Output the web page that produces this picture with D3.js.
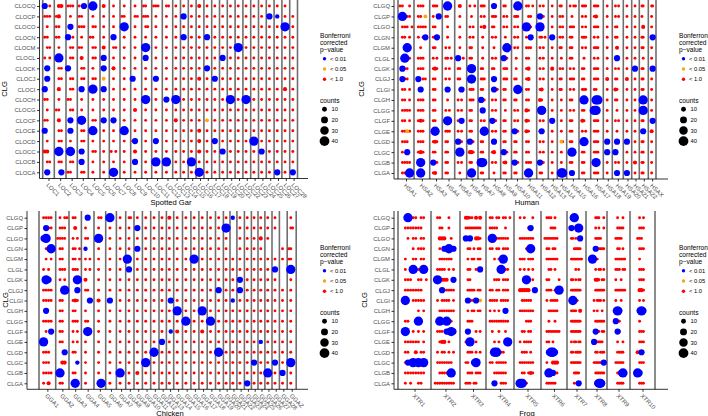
<!DOCTYPE html>
<html><head><meta charset="utf-8">
<script src="https://cdn.jsdelivr.net/npm/d3@7"></script>
<style>body{margin:0;background:#fff}svg{display:block;font-family:"Liberation Sans",Arial,sans-serif}</style>
</head><body><svg id="c" width="708" height="416"></svg>
<script>
// ---------- categories ----------
const clgGar = ["CLOCQ","CLOCP","CLOCO","CLOCN","CLOCM","CLOCL","CLOCK","CLOCJ","CLOCI","CLOCH","CLOCG","CLOCF","CLOCE","CLOCD","CLOCC","CLOCB","CLOCA"];
const clgOther = ["CLGQ","CLGP","CLGO","CLGN","CLGM","CLGL","CLGK","CLGJ","CLGI","CLGH","CLGG","CLGF","CLGE","CLGD","CLGC","CLGB","CLGA"];
const garChroms = ["LOC1","LOC2","LOC3","LOC4","LOC5","LOC6","LOC7","LOC8","LOC9","LOC10","LOC11","LOC12","LOC13","LOC14","LOC15","LOC16","LOC17","LOC18","LOC19","LOC20","LOC21","LOC22","LOC23","LOC24","LOC25","LOC26","LOC27","LOC28"];
const garSizes = [11.6,11.7,11.3,11,11.7,9.3,10.7,10.7,11,10,10.6,10.4,7.8,7.8,7.8,7.8,7.8,7.8,7.8,7.8,7.8,7.8,7.8,7.8,7.8,7.8,7.8,7.8];
const humChroms = ["HSA1","HSA2","HSA3","HSA4","HSA5","HSA6","HSA7","HSA8","HSA9","HSA10","HSA11","HSA12","HSA13","HSA14","HSA15","HSA16","HSA17","HSA18","HSA19","HSA20","HSA21","HSA22","HSAX"];
const humSizes = [16,15.7,12.6,12.4,12,11.3,11,11.7,10.8,11,14.2,11.6,9,9.4,12.3,11.7,12.6,9,11,8.4,7.6,9,7.7];
const chkChroms = ["GGA1","GGA2","GGA3","GGA4","GGA5","GGA6","GGA7","GGA8","GGA9","GGA10","GGA11","GGA12","GGA13","GGA14","GGA15","GGA16","GGA17","GGA18","GGA19","GGA20","GGA21","GGA22","GGA23","GGA24","GGA25","GGA26","GGA27","GGA28","GGAZ"];
const chkSizes = [16.7,13.3,12.4,12.6,11.7,10.7,9.3,8.3,8.4,8.3,8.3,7.4,7.3,8.8,8.4,8,8.3,8.3,7.9,6.6,6.9,7.5,7,6.6,6.9,7.1,7.4,7.8,9];
const frgChroms = ["XTR1","XTR2","XTR3","XTR4","XTR5","XTR6","XTR7","XTR8","XTR9","XTR10"];
const frgSizes = [33,29,26,28,27,26,19,21,23,25];

// legend values
const pClasses = ["< 0.01","< 0.05","< 1.0"];
const countTicks = [10,20,30,40];
// dot codes: count and p-value class per symbol
const codeCount = {r:3.5, R:7, o:6, b:8, m:16, B:36};
const codeClass = {r:"< 1.0", R:"< 1.0", o:"< 0.05", b:"< 0.01", m:"< 0.01", B:"< 0.01"};

// ---------- dots: one string per CLG row, one token per chromosome, one char per slot ----------
const garRows = [
"m.r. .RR. rrr. r.m. .B.. .R.. .r.. .r.. .r.. rr.. rrr. .rr. .r.. .r.. .r.. .R.. .r.. .r.. .r.. .r.. .r.. .r.. .r.. .r.. .r.. .r.. .r.. ....",
"rrr. rR.. .r.. rr.. .r.. .r.. .r.. rr.. .rr. rrr. .r.. .r.. .r.. .m.. .r.. .r.. .r.. .r.. .r.. .r.. .r.. .r.. .r.. .r.. .m.. .b.. .r.. .r..",
".r.. rr.. .m.. rrr. .rr. .r.. .r.. .B.. .r.. .rr. .r.. .r.. .r.. .r.. .r.. .r.. .r.. .r.. .r.. .r.. .r.. .r.. .r.. .r.. .r.. .r.. .B.. .r..",
"rr.. rr.. m.r. .r.. rr.. .r.. .m.. .r.. .r.. .r.. .r.. .r.. .r.. .m.. .r.. .r.. .m.. .r.. .r.. .r.. .r.. .r.. .r.. .r.. .r.. .r.. .r.. .r..",
".rr. .r.. .rr. rr.. .rr. .R.. .rr. .r.. .r.. .B.. .r.. .r.. .r.. .r.. .r.. .r.. .r.. .r.. .r.. .r.. .B.. .r.. .r.. .r.. .r.. .r.. .r.. .r..",
"r.r. .B.. .rr. .R.. .rr. .m.. .r.. .r.. .r.. .m.. .r.. .r.. .r.. .r.. .r.. .r.. .r.. .r.. .m.. .r.. .r.. .r.. .r.. .r.. .r.. .r.. .r.. .r..",
".m.. .rr. m... .rr. .r.. .m.. .R.. .r.. .r.. .r.. .r.. .r.. .r.. .r.. .r.. .r.. .m.. .r.. .r.. .r.. .r.. .r.. .r.. .r.. .r.. .r.. .r.. .r..",
".m.. .rr. .rr. .rr. .rr. .o.. .r.. .r.. m... .r.. .m.. .r.. .r.. .r.. .r.. .R.. .r.. .m.. .r.. .r.. .r.. .r.. .r.. .r.. .r.. .r.. .r.. .r..",
"m... .R.. .rr. .m.. .B.. .m.. .r.. .r.. .r.. .r.. .r.. .r.. .r.. .r.. .r.. .r.. .r.. .r.. .r.. .r.. .r.. .r.. .r.. .r.. .r.. .r.. .R.. .r..",
"rr.. .r.. rr.. .r.. .r.. .r.. .r.. .r.. .r.. .B.. .r.. .m.. .B.. .r.. .r.. .r.. .r.. .r.. .r.. .B.. .r.. .B.. .r.. .r.. .r.. .r.. .r.. .r..",
".r.. rr.. .rr. .r.. .r.. .r.. .r.. .r.. .R.. .r.. .r.. .r.. .r.. .r.. .r.. .r.. .r.. .r.. .r.. .r.. .r.. .r.. .r.. .r.. .r.. .r.. .r.. .r..",
"rr.. .R.. .m.. .B.. .rr. .m.. .m.. .r.. .r.. .r.. .r.. .r.. .R.. .r.. .r.. .r.. .o.. .r.. .r.. .r.. .r.. .r.. .r.. .r.. .r.. .r.. .r.. .r..",
"m... .rr. .m.. .rr. .B.. .r.. .r.. .B.. .r.. .r.. .r.. .r.. .r.. .r.. .r.. .R.. .r.. .r.. .r.. .r.. .r.. .r.. .r.. .r.. .r.. .r.. .r.. .r..",
".r.. .rr. .r.. .rr. .r.. .r.. .r.. .r.. rm.. .r.. .m.. .r.. .r.. .r.. .r.. .R.. .r.. .m.. .r.. .r.. .r.. .r.. .B.. .r.. .r.. .r.. .r.. .r..",
"RR.. .B.. .B.. .m.. .rr. .r.. r.r. .r.. .R.. .r.. .r.. .r.. .r.. .r.. .r.. .R.. .r.. .r.. .m.. .r.. .r.. .r.. .r.. .m.. .r.. .r.. .r.. .r..",
".rr. .rr. .rr. .m.. .r.. .r.. .r.. .r.. .m.. .r.. .B.. .B.. .r.. .r.. .B.. .r.. .r.. .r.. .r.. .r.. .r.. .r.. .r.. .r.. .r.. .r.. .r.. .r..",
".m.. ..m. rr.. .rr. .r.. .r.. .B.. .r.. .r.. .r.. .r.. .r.. .r.. .r.. .r.. .B.. .r.. .r.. .r.. .r.. .r.. .r.. .r.. .r.. .r.. .m.. .r.. .m.."
];
const humRows = [
"rr..r. .rrr.. .rrr.. ..B... ..R... .r..r. .rrr.. ..m... .rr... ...B.. .rr.r. .r.r.. ..r... .rr... .r.rr. .rrr.. .rrr.. ..r... .r.r.. ..r... ..r... .rr... ..rr..",
".Brrr. .rr.o. .r..m. .rr... ..r... ..r... .r.r.. .rrr.. .r.r.. .rrr.. ..rr.. .m.r.. ..r... .r.r.. ..r... .r.r.. .rR... ..r... .r.r.. ..r... ..r... .r.... ..r...",
".rrr.r .rrrr. .rr... ..r... ..r... .r.r.. .r.R.. .rr... .r.r.. .r.r.. .B.r.. .B.... ..r... .r.r.. .rrr.. .r.r.. .rrr.. ..r... .rr... ..r... ..r... ..R... ..r...",
".rr.r. .r.rm. .r.m.. ..r... ..r... .r.r.. ..r... .r.r.. ..r... .r.r.. .r.m.. .rr.r. ..m... .r.r.. .rr... .rrr.. .r.r.. ..r... .rr... ..r... ..r... .rr... ...m..",
"..rB.. ..r... .rr... .r.r.. ..r... .rr... ..r... ..r... ..rB.. .r.r.. .rrr.. .r.r.. ..r... .rr... .rr... .r.r.. .rrr.. ..r... ..R... ..r... ..r... .rr... ..r...",
"..B.r. .rrr.. .r.r.. .rr.r. .m..r. .rr... ..r... .r.r.. .m.r.. ..r... .rr... .r.r.. ..r... ..r... .rr... ..r... .r.r.. ..r... ..m... ..r... ..r... ..r... ..r...",
".mrr.. .rrr.. .rRr.. .r.r.. .rr... ..B... .rr... .rr... .rrr.. ..r... .rR... .r.r.. ..R... .r.r.. .r.r.. .rr... .rrr.. ..r... .r.r.. ..r... ..m... .rr... ...m..",
".mrr.. .m.rr. .rr... .r.r.. .rr... ..B... .rrr.. ..m... .rrr.. .rr... .rR... .r.r.. ..r... .rr... .rrr.. .rr... .rrr.. ..R... .rr... ..R... ..r... .rr... ..r...",
".rr.r. ..m... .rr... ..m... ..rm.. .rrr.. .rr... ..m.r. .rr... ...B.. .rr... .rR... ..r... .rr... .r.r.. .rrr.. .rr... ..r... .Rr... ..r... ..r... .rr... ..r...",
".rr.r. .rrr.. .rr... ..r... .r.r.. .rrr.. .m.r.. .r.r.. .rr... .rr... .rr... .Rr... ..r... ..r... .rr... ..B... ..BB.. ..r... .rr... ..r... ..r... ..B... ..r...",
".rrrr. .rrr.. .rr... .r.r.. .r.r.. .rr... ..m... .r.r.. ..r... .r.r.. .Rr... ..B... ..r... ..r... .r.r.. .rr... .BB... ..r... ..r... ..r... ..r... ..B... ..r...",
".rr.r. .rRr.. .rr... ..B... .r.m.. .rr... .r.r.. .m.r.. .rr... .r.r.. .Rr... .r.r.. ..m... ..r... .rr... .Rr... .rrr.. ..r... .r.r.. ..r... ..r... .rr... ...m..",
".rror. .rrr.. ..B... .rrr.. .r.r.. .rr... ..rB.. .r.r.. .rr... .m.r.. .Rr... .rm... ..r... ..r... .rr... .r.r.. .rrr.. ..r... ..r... ..r... ..r... ..m... ..R...",
".rrr.. .rrr.. .rRr.. .rr... .m.r.. .m.r.. .rr... ..m... .rr... .rr... .rr... .r.r.. ..r... ..or.. .rr... ..B... .rrr.. ..m... ..m... ..m... ..r... .rr... ..r...",
".r.m.. .rRr.. .rr... .rr... ..B... .RRr.. .rr... .rR... .m.r.. .rr... .rr... .r.r.. ..r... ..r... ..B... .rr... .rrr.. ..m... .m.... ..r... ..r... .rr... ..r...",
".rrrr. ..B... .m.r.. .rr... .r.r.. .rr... .BB... .r.r.. .rR... .m.r.. .rrr.. .m.r.. ..r... ..r... .rr... .rr... ..B... ..r... .r.r.. ..r... ..R... .rr... ..r...",
".rr.B. ..Br.. .rR... .rr... ..r... ..B... .rr... ..r... .rr... .rr... ..B... .rr... ..r... ..BB.. ..m... .rr... .rrr.. ..r... ..m... ..m... ..r... .rr... ..r..."
];
const chkRows = [
".rrrr. .r.rr .rr.. ..m.. .rr. .B.. .r.. .rr. .r.. .r.. .r.. .r.. .R.. .r.. .r.. .r.. .r.. .r.. .r.. .r.. .b.. .r.. .r.. .r.. .r.. .r.. .r.. .... .r..",
"..mrr. .rrr. ..R.. .r... .r.. .r.. .r.. .r.. .m.. .r.. .r.. .r.. .r.. .r.. .r.. .r.. .r.. .r.. .r.. .B.. .... .r.. .r.. .r.. .r.. .r.. .r.. .... .rr.",
".mB... rrrr. .r.r. .rr.. .B.. .r.. .r.. .r.. .r.. .r.. .r.. .r.. .r.. .r.. .r.. .r.. .r.. .r.. .r.. .r.. .... .r.. .r.. .r.. .R.. .r.. .... .... ....",
"..r.B. .rr.. .rr.r .b... .r.. .r.. .r.. .r.. .m.. .r.. .r.. .r.. .r.. .r.. .r.. .r.. .r.. .r.. .r.. .r.. .... .r.. .r.. .r.. .r.. .... .... .r.. rr..",
"..r.r. .rr.. .rr.r .r.r. .r.. .r.. .r.. B... .r.. .r.. .r.. .r.. .r.. .r.. .r.. .B.. .r.. .r.. .r.. .r.. .r.. .r.. .r.. .r.. .r.. .r.. .r.. .r.. rr..",
".r.r.. .rrr. .rrr. .r.r. .r.. .r.. .r.. .m.. .r.. .r.. .r.. .r.. .r.. .r.. .r.. .r.. .r.. .r.. .r.. .r.. .r.. .r.. .r.. .r.. .r.. .r.. .m.. .... .B..",
"..Bm.. .r.r. ...B. .R... .r.. .r.. .r.. .r.. .r.. .r.. .r.. .r.. .r.. .r.. .r.. .r.. .r.. .r.. .r.. .r.. .r.. .m.. .r.. .r.. .r.. .r.. .r.. .... .r..",
".rrrr. ...B. ...m. .rr.. .r.. .r.. .r.. .r.. .r.. .r.. .r.. .r.. .r.. .r.. .r.. .r.. .r.. .r.. .m.. .r.. .r.. .m.. .r.. .r.. .r.. .r.. .r.. .r.. .r..",
".rrrr. .rr.. .rRr. ...m. .R.. .m.. .r.. .r.. .r.. .r.. .r.. .r.. ..m. .r.. .r.. .r.. .r.. .r.. .r.. .r.. .b.. .r.. .r.. .r.. .r.. .r.. .r.. .r.. .r..",
"..m... .rr.. .rr.. .r... .r.. .r.. .r.. .r.. .r.. .r.. .r.. .r.. .r.. .B.. .r.. .r.. .B.. .r.. .r.. .r.. .r.. .r.. .r.. .r.. .r.. .r.. .r.. .r.. .r..",
".rrrr. .rr.. .rrr. .rr.. .r.. .r.. .r.. .r.. .r.. .r.. .r.. .r.. .r.. .r.. .B.. .r.. .r.. .B.. .r.. .r.. .r.. .r.. .r.. .r.. .r.. .r.. .r.. .r.. .r..",
"..r.m. .rr.. .r.r. ..B.. .r.. .r.. .r.. .r.. .r.. .r.. .r.. .r.. ..b. .R.. .r.. .r.. .R.. .r.. .r.. .r.. .r.. .r.. .r.. .r.. .r.. .r.. .r.. .r.. .r..",
".B.... .rr.. .r.r. .r... .r.. .r.. .r.. .r.. .r.. .r.. .r.. .m.. .r.. .r.. .r.. .r.. .r.. .r.. .r.. .r.. .r.. .r.. .r.. .r.. .b.. .r.. .r.. .r.. .r..",
".rrr.. ...m. .rr.. .r... .r.. .r.. .r.. .r.. .r.. .r.. .B.. .r.. .r.. .r.. .r.. .r.. .r.. .r.. .B.. .r.. .r.. .r.. .r.. .r.. .r.. .r.. .r.. .r.. .r..",
".rrr.. ..RR. ...b. .r... .r.. .r.. .r.. .r.. .r.. .B.. .r.. .r.. .r.. .r.. .r.. .r.. .r.. .r.. .r.. .r.. .r.. .r.. .r.. .m.. .r.. .r.. .m.. .r.. .B..",
".rrrr. .B... .rr.. .r... .r.. .r.. .B.. .r.. .R.. .r.. .r.. .r.. .r.. .r.. .r.. .r.. .r.. .r.. .r.. .r.. .r.. .r.. .r.. .r.. .r.. .B.. .r.. .m.. .r..",
".r.R.. .rr.. ..B.. .r... ..B. .r.. .r.. .r.. .r.. .r.. .r.. .r.. .r.. .r.. .r.. .r.. .r.. .r.. .r.. .r.. .r.. .r.. .m.. .r.. .r.. .r.. .r.. .r.. .r.."
];
const frgRows = [
"..rB.rr.rr.. ..rr...r.... ..RRrr.R.R.. .rr.rr.rr.r. ..r.r...r... ..rrr.r..... ...mB....... .....rrr..r. .....r..r... ....r.r.....",
"..rrrrrrr... ...rr..r.... ..rrrrrrrr.. .rrrr...r... ......rm.... ....rrr..... ..m....B.... .....r.r..r. .....rrrr... ....rrr.....",
"...r.rr.rr.. ...RRR..r... ..m.m..RRr.. ..B.rrrrrr.. ..rrrrrrr... .rrrrrrr.... ..rr.r..m... .....rrrr... ....rrrr.... ...rrr......",
".....r.rrr.. ...r.m.B.m.. ...rr.r.rr.. .rr.rr.rrr.. .....r.B.... ..rr.rr..... ....rrrrr... .....m.rrrr. .....rr.r... ....rrr.....",
"..r..rr.rr.. ...rrrrrr... ...r.rr.rr.. ...r.r.Br... ..rrr.rrr... ..rrrrrr.... ..rrrrrrrr.. ...B..r..... ....rrrrrr.. ....r.......",
"..r..B.r.B.. ..rrrr.r.r.. ...rr..r.m.. ......B.rr.. ..r.r.r.r... ...rr.r..... .....r.r.... .....r.rr.r. ....rrr.rr.. ....rrr.....",
"..rrr..rr.r. ..B.RRR..m.. ...rr....... ...rrr.rrr.. ....oB..r... ..rr....r... ..rr.r.rr... .....RRr.rr. ....r..r.... ....rrr.....",
"..rrrrrrr... ....mrrrrr.. ...rrrr.rr.. .rr.rr.rrr.. ..RRRRR..m.. ..rrr.r.B... ..rrrrrrr... .....rrrrrr. ....rrrrrr.. ....RRr.....",
"..B..rrrrr.. ..r.rrrr.r.. ...m.r.m.o.. .rrrr.rrrr.. ...rrrrr.... ..r.rrrr.... ...B..r..... ....r.rrr.r. ....r..r.... ....r.r.....",
".......r.r.. ...rrrrrrr.. ...r.rr.rr.. .r.r.r..m... ..rrrrrrr... ...rrrrr.... ..rrrr..R... ....r.r..r.. ....mBm..... ....mBm.....",
"..rr...B.... ...B..B.r... ...rrr...... .rrrrrrrrr.. .....rrr.... ...r..r..... ..rrrrrrr... .....rrrrrr. ....m.r..... ....r.......",
"..B..r.r.r.. ..rrr.mmBm.. ...m...r.r.. ..r..r..r... ...rr.rr.... ..rrrrrrr... ..rrrrrrr... .....m.r.rr. .....mr..... ....rrr.....",
"..rrrrrr.r.. ...rRR.r.... ..rrB..r.... ...r.r...B.. ..r.rrrr.... ..rr.r...... ..r.rr.rr... ....m.rrrr.. .....r..r... ....rrr.....",
"..rr..R.rr.. ..r.rr.r.r.. ...rrr.r.r.. ...BB.rr.... ...rrr.r.... ...mBBm..... ..rr.rrrr... .....rr.rrr. .....rrrr... ...R.m......",
"..rm.B.B.B.. ..rrrrrrr... ..rr..mB.... .rr.rrrrr... ..rrrrrrr... ..r..RRR.... ..rrrrrrr... ....rrrrr.m. ....rrrrr... ....rrr.....",
"..rrrrrrrr.. ...rrrr.B... ...rrr.rrr.. ...rrrrrr... ...rr.rRr... ...B.m.r.... ....rrrr.... .....rrrrrr. .....r.mB... ...Bm.......",
"..r.r..rr... .rrrrrrrrr.. ..rrr.rr.... ...m..rrr... ..BB.r...... ..rrrrr..... ....r.rm.... .....rmBBm.. .....rrrr... ....rrr....."
];

// ---------- layout ----------
const panels = [
 {title:"Spotted Gar", clg:clgGar, chroms:garChroms, sizes:garSizes, rows:garRows,
  x0:39.5, lineStart:42.7, axisEnd:308, plotTop:0, top:6, bottom:172.3, axisY:178.5, titleX:171, titleY:202, ylabX:4.5, ylabY:89, legX:320, legY:0},
 {title:"Human", clg:clgOther, chroms:humChroms, sizes:humSizes, rows:humRows,
  x0:394, lineStart:398, axisEnd:668, plotTop:0, top:6, bottom:173, axisY:179, titleX:527, titleY:202, ylabX:361, ylabY:89, legX:679, legY:0},
 {title:"Chicken", clg:clgOther, chroms:chkChroms, sizes:chkSizes, rows:chkRows,
  x0:27, lineStart:39, axisEnd:308, plotTop:211, top:217.7, bottom:383.3, axisY:389.3, titleX:170, titleY:413, ylabX:5, ylabY:300, legX:320, legY:212},
 {title:"Frog", clg:clgOther, chroms:frgChroms, sizes:frgSizes, rows:frgRows,
  x0:394, lineStart:398, axisEnd:668, plotTop:211, top:217.7, bottom:383.3, axisY:389.3, titleX:527, titleY:413, ylabX:364, ylabY:300, legX:679, legY:212}
];

const svg = d3.select("#c");
const color = d3.scaleOrdinal().domain(pClasses).range(["#0000ff","#ffa500","#ff0000"]);
const size = d3.scaleSqrt().domain([0,40]).range([0,4.9]);
const tickCol = "#4d4d4d";

panels.forEach(p => {
  const g = svg.append("g");
  const cum = [0];
  p.sizes.forEach(s => cum.push(cum[cum.length-1] + s));
  const total = cum[cum.length-1];
  const x = d3.scaleLinear().domain([0,total]).range([p.lineStart, p.lineStart + total]);
  const y = d3.scalePoint().domain(p.clg).range([p.top, p.bottom]);

  // separators
  g.append("g").selectAll("line").data(cum).join("line")
    .attr("x1", d => x(d)).attr("x2", d => x(d))
    .attr("y1", p.plotTop).attr("y2", p.axisY)
    .attr("stroke", "#6f6f6f").attr("stroke-width", 1.6);

  // dots
  const dots = [];
  p.rows.forEach((row, ri) => {
    row.trim().split(/\s+/).forEach((cell, ci) => {
      if (ci >= p.sizes.length) return;
      const n = cell.length, pad = 0.8, w = p.sizes[ci] - 2*pad;
      for (let k = 0; k < n; k++) {
        const ch = cell[k];
        if (!(ch in codeCount)) continue;
        dots.push({clg: p.clg[ri], pos: cum[ci] + pad + (k + 0.5) / n * w,
                   count: codeCount[ch], cls: codeClass[ch]});
      }
    });
  });
  dots.sort((a,b) => a.count - b.count);
  g.append("g").selectAll("circle").data(dots).join("circle")
    .attr("cx", d => x(d.pos)).attr("cy", d => y(d.clg))
    .attr("r", d => size(d.count)).attr("fill", d => color(d.cls));

  // y axis
  const ya = g.append("g").attr("transform", `translate(${p.x0},0)`)
    .call(d3.axisLeft(y).tickSize(2.5).tickPadding(1.5));
  ya.select(".domain").remove();
  ya.selectAll(".tick line").attr("stroke", "#333");
  ya.selectAll("text").attr("fill", tickCol).style("font-size", "5.9px").style("font-family", "Liberation Sans, Arial, sans-serif");
  g.append("line").attr("x1", p.x0).attr("x2", p.x0).attr("y1", p.plotTop).attr("y2", p.axisY)
    .attr("stroke", "#000").attr("stroke-width", 0.8);

  // x axis
  const centers = p.sizes.map((s,i) => cum[i] + s/2);
  const xa = g.append("g").attr("transform", `translate(0,${p.axisY})`)
    .call(d3.axisBottom(x).tickValues(centers).tickFormat((d,i) => p.chroms[i]).tickSize(2.5));
  xa.select(".domain").remove();
  xa.selectAll(".tick line").attr("stroke", "#333");
  xa.selectAll("text").attr("fill", tickCol).style("font-size", "6px")
    .style("font-family", "Liberation Sans, Arial, sans-serif")
    .attr("x", 0).attr("y", 0).attr("dy", "0.35em")
    .attr("transform", "translate(-1.5,5.5) rotate(45)").style("text-anchor", "start");
  g.append("line").attr("x1", p.x0).attr("x2", p.axisEnd).attr("y1", p.axisY).attr("y2", p.axisY)
    .attr("stroke", "#000").attr("stroke-width", 0.8);

  // titles
  g.append("text").attr("x", p.titleX).attr("y", p.titleY).attr("text-anchor", "middle")
    .attr("dominant-baseline", "central").style("font-size", "7.6px").attr("fill", "#000").text(p.title);
  g.append("text").attr("transform", `translate(${p.ylabX},${p.ylabY}) rotate(-90)`)
    .attr("text-anchor", "middle").attr("dominant-baseline", "central")
    .style("font-size", "7.6px").attr("fill", "#000").text("CLG");

  // legend
  const L = g.append("g").attr("transform", `translate(${p.legX},${p.legY})`);
  ["Bonferroni","corrected","p\u2212value"].forEach((t,i) =>
    L.append("text").attr("x", 0).attr("y", 35.5 + i*7).attr("dominant-baseline", "central")
      .style("font-size", "6.6px").attr("fill", "#000").text(t));
  pClasses.forEach((c,i) => {
    const yy = 58.7 + i*10.3;
    L.append("circle").attr("cx", 4.5).attr("cy", yy).attr("r", 1.7).attr("fill", color(c));
    L.append("text").attr("x", 10).attr("y", yy).attr("dominant-baseline", "central")
      .style("font-size", "5.8px").attr("fill", "#000").text(c);
  });
  L.append("text").attr("x", 0).attr("y", 100.5).attr("dominant-baseline", "central")
    .style("font-size", "6.6px").attr("fill", "#000").text("counts");
  countTicks.forEach((v,i) => {
    const yy = 109.3 + i*10.6;
    L.append("circle").attr("cx", 4.5).attr("cy", yy).attr("r", size(v)).attr("fill", "#000");
    L.append("text").attr("x", 11.5).attr("y", yy).attr("dominant-baseline", "central")
      .style("font-size", "5.8px").attr("fill", "#000").text(v);
  });
});
</script></body></html>
